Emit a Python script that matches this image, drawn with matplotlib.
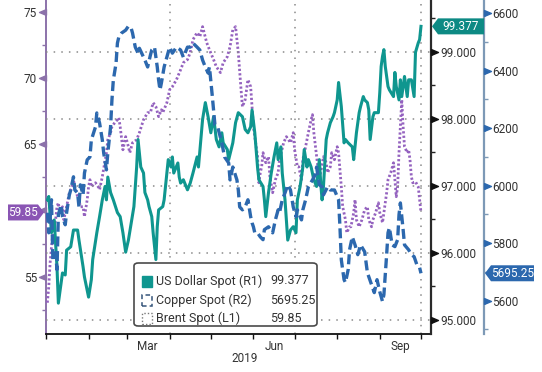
import numpy as np
import matplotlib
matplotlib.use("Agg")
import matplotlib.pyplot as plt
import matplotlib.dates as mdates
from matplotlib.ticker import MultipleLocator, FixedLocator, NullFormatter, FormatStrFormatter
from matplotlib.patches import Polygon, FancyBboxPatch, Rectangle
from matplotlib.transforms import blended_transform_factory
from matplotlib import font_manager as fm


def has_font(name):
    try:
        fm.findfont(fm.FontProperties(family=name), fallback_to_default=False)
        return True
    except Exception:
        return False


if has_font('Liberation Sans Narrow'):
    FAM = ['Liberation Sans Narrow', 'DejaVu Sans']
    FS = 10
else:
    FAM = ['Roboto', 'DejaVu Sans']
    FS = 8.5
plt.rcParams['font.family'] = FAM

# ---------------- data (day offsets from 2019-01-01) ----------------
BASE = np.datetime64('2019-01-01')

usd_days = [1, 2, 4, 6, 8, 9, 12, 14, 15, 18, 20, 23, 24, 27, 28, 31, 33, 34, 37, 39, 41, 43, 44, 45, 47, 49,
            52, 54, 56, 58, 60, 64, 66, 67, 69, 71, 72, 74, 75, 77, 78, 80, 81, 82, 85, 86, 88, 89, 91, 92,
            93, 96, 97, 98, 100, 103, 105, 107, 110, 111, 114, 116, 118, 120, 122, 124, 126, 128, 129, 132,
            133, 136, 138, 140, 143, 145, 147, 149, 150, 152, 154, 155, 158, 159, 160, 162, 164, 166, 168,
            169, 171, 172, 174, 176, 178, 180, 182, 183, 185, 187, 188, 190, 191, 193, 195, 197, 199, 200,
            201, 202, 204, 205, 207, 209, 210, 212, 213, 215, 217, 218, 220, 223, 224, 226, 228, 229, 231,
            232, 234, 235, 236, 238, 239, 242, 243, 244, 245, 246, 247, 249, 250, 253, 254, 255, 257, 258,
            259, 261, 263, 264, 266, 268, 269, 271, 272, 273]
usd_vals = [96.79, 96.84, 96.30, 96.49, 95.79, 95.25, 95.70, 95.67, 96.04, 96.09, 96.34, 96.34, 96.19,
            95.79, 95.64, 95.34, 95.60, 95.90, 96.30, 96.54, 96.79, 96.99, 96.79, 97.13, 96.90, 96.79,
            96.60, 96.54, 96.30, 96.01, 96.19, 96.69, 97.28, 97.69, 97.28, 97.19, 96.90, 96.79, 96.69,
            96.54, 96.30, 95.90, 96.39, 96.64, 96.69, 96.79, 97.19, 97.39, 97.28, 97.43, 97.19, 97.34,
            97.13, 97.04, 97.09, 96.94, 97.04, 97.19, 97.43, 97.28, 97.99, 98.24, 98.03, 97.79, 98.03,
            97.69, 97.58, 97.79, 97.64, 97.54, 97.39, 97.64, 97.94, 98.09, 98.03, 97.84, 97.79, 97.88,
            98.13, 97.79, 97.28, 97.09, 96.99, 96.79, 96.54, 96.90, 97.19, 97.43, 97.64, 97.39, 97.58,
            97.19, 96.79, 96.19, 96.34, 96.39, 96.30, 96.79, 96.99, 97.28, 97.54, 97.28, 97.39, 97.28,
            97.09, 96.99, 97.39, 97.04, 96.79, 96.99, 97.69, 97.79, 97.94, 98.03, 98.09, 98.28, 98.54,
            98.18, 97.64, 97.69, 97.64, 97.58, 97.39, 97.79, 98.09, 98.18, 98.33, 98.28, 98.24, 98.13,
            97.69, 98.03, 98.09, 98.09, 98.39, 98.78, 98.93, 99.03, 98.78, 98.48, 98.43, 98.33, 98.69,
            98.48, 98.28, 98.58, 98.33, 98.63, 98.33, 98.58, 98.58, 98.33, 98.99, 99.13, 99.18, 99.377]

copper_days = [1, 2, 4, 5, 7, 8, 9, 11, 12, 14, 15, 17, 18, 20, 21, 23, 24, 25, 27, 28, 30, 32, 33, 36, 37,
               39, 41, 42, 44, 45, 47, 48, 49, 51, 52, 53, 55, 58, 60, 62, 63, 65, 67, 68, 71, 72, 74, 76,
               77, 79, 81, 82, 83, 84, 86, 88, 90, 92, 95, 98, 100, 103, 105, 107, 110, 112, 114, 116, 118,
               119, 121, 123, 125, 128, 130, 133, 134, 136, 139, 140, 141, 143, 145, 147, 149, 150, 151,
               152, 154, 156, 158, 159, 162, 165, 167, 169, 170, 172, 174, 176, 178, 180, 182, 183, 186,
               187, 189, 191, 194, 196, 197, 199, 201, 202, 205, 207, 210, 213, 214, 215, 217, 218, 220,
               221, 223, 225, 227, 229, 232, 234, 237, 239, 241, 243, 245, 246, 248, 249, 250, 252, 254,
               256, 257, 258, 260, 261, 264, 266, 268, 270, 272, 273]
copper_vals = [5906, 5836, 5951, 5742, 5767, 5708, 5899, 5933, 5892, 5864, 5906, 5968, 5985, 6031, 5985,
               5975, 5926, 6003, 5968, 6044, 6090, 6100, 6159, 6204, 6253, 6218, 6159, 6114, 6055, 6114,
               6204, 6298, 6367, 6426, 6496, 6517, 6531, 6541, 6555, 6548, 6531, 6482, 6461, 6478, 6447,
               6437, 6413, 6454, 6472, 6482, 6413, 6367, 6333, 6357, 6413, 6447, 6482, 6461, 6482, 6472,
               6447, 6482, 6482, 6496, 6482, 6472, 6437, 6413, 6392, 6413, 6315, 6211, 6204, 6149, 6100,
               6079, 6020, 6065, 6020, 5985, 5926, 5916, 5926, 5951, 5892, 5871, 5857, 5836, 5836, 5822,
               5812, 5847, 5857, 5836, 5881, 5916, 5906, 5951, 5975, 6003, 5985, 5926, 5892, 5916, 5881,
               5916, 5951, 5996, 6020, 6038, 6065, 6003, 5996, 5968, 5996, 5985, 5985, 5951, 5857, 5742,
               5673, 5663, 5708, 5777, 5822, 5794, 5760, 5794, 5770, 5697, 5656, 5628, 5673, 5631, 5597,
               5621, 5760, 5836, 5854, 5794, 5788, 5812, 5899, 5940, 5847, 5794, 5777, 5760, 5753, 5725,
               5715, 5695.25]

brent_days = [1, 2, 3, 4, 5, 7, 8, 9, 10, 12, 13, 14, 15, 17, 19, 20, 21, 23, 24, 25, 27, 28, 30, 31, 32,
              33, 36, 38, 39, 41, 44, 45, 47, 48, 50, 52, 53, 54, 56, 58, 60, 61, 63, 66, 68, 71, 74, 76,
              78, 80, 82, 84, 85, 88, 90, 92, 95, 98, 100, 103, 105, 107, 110, 112, 114, 117, 119, 122,
              124, 127, 129, 132, 134, 136, 138, 139, 140, 142, 143, 145, 147, 149, 150, 151, 154, 155,
              156, 157, 158, 160, 162, 163, 165, 167, 169, 170, 173, 175, 178, 180, 181, 183, 184, 186,
              187, 189, 191, 193, 194, 195, 197, 199, 202, 204, 205, 207, 208, 210, 212, 213, 215, 216,
              218, 219, 221, 222, 224, 225, 226, 228, 230, 232, 234, 235, 237, 238, 240, 242, 243, 245,
              246, 248, 249, 251, 253, 254, 255, 256, 257, 258, 259, 260, 261, 263, 264, 265, 266, 267,
              269, 271, 272, 273]
brent_vals = [53.04, 54.25, 56.06, 57.26, 58.32, 59.30, 60.28, 60.58, 59.83, 60.28, 59.30, 59.83, 60.28,
              61.34, 61.79, 62.32, 61.79, 61.04, 60.81, 60.28, 60.28, 59.53, 60.81, 61.79, 62.32, 61.79,
              62.09, 61.79, 61.57, 62.55, 64.36, 65.34, 65.87, 66.32, 66.62, 66.85, 67.00, 66.32, 64.58,
              65.57, 64.81, 64.36, 65.11, 65.34, 65.87, 66.85, 67.38, 67.38, 68.13, 67.83, 67.08, 67.60,
              67.38, 68.13, 69.11, 69.34, 69.87, 70.62, 71.15, 71.38, 71.91, 72.89, 73.42, 73.11, 73.87,
              72.66, 72.13, 71.38, 70.85, 70.40, 71.15, 71.60, 72.36, 73.64, 73.87, 72.89, 71.91, 69.11,
              67.83, 68.36, 69.87, 69.34, 67.83, 66.32, 64.06, 62.09, 62.85, 63.30, 64.36, 63.60, 64.06,
              62.55, 61.34, 62.32, 62.85, 63.83, 65.11, 65.57, 65.11, 65.87, 64.58, 63.30, 63.30, 62.32,
              63.83, 64.81, 65.87, 66.85, 67.23, 65.87, 64.06, 62.32, 64.06, 63.60, 62.85, 63.30, 64.36,
              63.83, 64.81, 64.36, 61.79, 60.28, 59.30, 58.32, 58.77, 58.77, 59.83, 60.81, 59.30, 58.77,
              59.30, 60.06, 60.28, 59.30, 58.77, 59.30, 59.83, 60.58, 59.83, 59.08, 59.83, 61.34, 62.32,
              62.85, 63.60, 62.32, 61.04, 61.79, 64.36, 66.32, 68.36, 66.32, 64.81, 64.36, 64.58, 63.83,
              62.55, 62.09, 62.17, 61.79, 60.81, 59.85]

legend_names = ['US Dollar Spot (R1)', 'Copper Spot (R2)', 'Brent Spot (L1)']
legend_values = ['99.377', '5695.25', '59.85']
month_labels = ['Mar', 'Jun', 'Sep']
year_label = '2019'

# ---------------- style ----------------
TEAL = '#0f968f'
BLUE = '#2c68ae'
PURPLE = '#9462bf'
PURPLE_AX = '#8c72aa'
CU_AX = '#7d99b6'
GRID = '#8a8a8a'
TXT = '#333333'

W, H = 542, 372
fig = plt.figure(figsize=(W / 100, H / 100), dpi=100)
fig.patch.set_facecolor('white')
L, R, B, T = 46, 431, 334, 0
ax = fig.add_axes([L / W, 1 - B / H, (R - L) / W, (B - T) / H])
ax_usd = ax.twinx()
ax_cu = ax.twinx()


def to_dates(days):
    return BASE + np.array(days, dtype='timedelta64[D]')


ax.set_xlim(BASE, BASE + np.timedelta64(6727, 'h'))
ax.set_ylim(50.68, 75.88)
ax_usd.set_ylim(94.79, 99.77)
ax_cu.set_ylim(5484, 6646)

# gridlines
ax_usd.set_yticks([95, 96, 97, 98, 99])
ax_usd.yaxis.grid(True, which='major', color=GRID, lw=1.1, linestyle=(0, (1, 4)))
for d in ['2019-04-01', '2019-07-01', '2019-10-01']:
    ax.axvline(np.datetime64(d), color=GRID, lw=1.1, linestyle=(0, (1, 4)), zorder=0)

# series
ax.plot(to_dates(brent_days), brent_vals, color=PURPLE, lw=2.0,
        linestyle=(0, (0.8, 0.8)), dash_capstyle='butt', zorder=3)
ax_cu.plot(to_dates(copper_days), copper_vals, color=BLUE, lw=2.4,
           linestyle=(0, (3.0, 1.4)), dash_capstyle='butt', zorder=3)
ax_usd.plot(to_dates(usd_days), usd_vals, color=TEAL, lw=2.2, zorder=4)

# spines
for a in (ax, ax_usd, ax_cu):
    a.spines['top'].set_visible(False)
ax.spines['right'].set_visible(False)
ax.spines['left'].set_color(PURPLE_AX)
ax.spines['left'].set_linewidth(1.4)
ax.spines['bottom'].set_color('#111111')
ax.spines['bottom'].set_linewidth(1.3)
for a in (ax_usd, ax_cu):
    a.spines['left'].set_visible(False)
    a.spines['bottom'].set_visible(False)
ax_usd.spines['right'].set_color('#2a2a2a')
ax_usd.spines['right'].set_linewidth(1.6)
CU_POS = (484 - L) / (R - L)
ax_cu.spines['right'].set_position(('axes', CU_POS))
ax_cu.spines['right'].set_color(CU_AX)
ax_cu.spines['right'].set_linewidth(1.6)

# y ticks
left_major = [55, 60, 65, 70, 75]
ax.yaxis.set_major_locator(FixedLocator(left_major))
ax.set_yticklabels(['55', '', '65', '70', '75'])
ax.yaxis.set_minor_locator(MultipleLocator(2.5))
ax.tick_params(axis='y', which='major', length=0, pad=6.5, labelsize=FS, labelcolor=TXT)
ax.tick_params(axis='y', which='minor', length=3, width=1, color=PURPLE_AX, direction='out')

usd_major = [95, 96, 97, 98, 99]
ax_usd.yaxis.set_major_formatter(FormatStrFormatter('%.3f'))
ax_usd.yaxis.set_minor_locator(MultipleLocator(0.5))
ax_usd.tick_params(axis='y', which='major', length=0, pad=6.5, labelsize=FS, labelcolor=TXT)
ax_usd.tick_params(axis='y', which='minor', length=3, width=1, color='#222222', direction='out')

cu_major = [5600, 5800, 6000, 6200, 6400, 6600]
ax_cu.yaxis.set_major_locator(FixedLocator(cu_major))
ax_cu.yaxis.set_minor_locator(MultipleLocator(100))
ax_cu.tick_params(axis='y', which='major', length=0, pad=5.8, labelsize=FS, labelcolor=TXT)
ax_cu.tick_params(axis='y', which='minor', length=3, width=1, color=CU_AX, direction='out')

# triangle tick markers
tri_r = [(0, -0.42), (0, 0.42), (1, 0), (0, -0.42)]
tri_l = [(0, -0.42), (0, 0.42), (-1, 0), (0, -0.42)]
ax.plot(np.zeros(len(left_major)), left_major, ls='none', marker=tri_l, ms=10, color=PURPLE_AX,
        transform=blended_transform_factory(ax.transAxes, ax.transData), clip_on=False, zorder=6)
ax_usd.plot(np.ones(len(usd_major)), usd_major, ls='none', marker=tri_r, ms=10, color='#111111',
            transform=blended_transform_factory(ax_usd.transAxes, ax_usd.transData), clip_on=False, zorder=6)
ax_cu.plot(np.full(len(cu_major), CU_POS), cu_major, ls='none', marker=tri_r, ms=10, color=BLUE,
           transform=blended_transform_factory(ax_cu.transAxes, ax_cu.transData), clip_on=False, zorder=6)

# x ticks
ax.xaxis.set_major_locator(mdates.MonthLocator())
ax.xaxis.set_major_formatter(NullFormatter())
mids = [mdates.date2num(np.datetime64(d)) for d in ['2019-03-16', '2019-06-16', '2019-09-16']]
ax.xaxis.set_minor_locator(FixedLocator(mids))
ax.xaxis.set_minor_formatter(matplotlib.ticker.FixedFormatter(month_labels))
ax.tick_params(axis='x', which='major', length=3.5, width=1, color='#111111', direction='out')
ax.tick_params(axis='x', which='minor', length=0, pad=4, labelsize=FS, labelcolor=TXT)
fig.text(245 / W, 1 - 358 / H, year_label, ha='center', va='center', fontsize=FS, color=TXT)

# value tags
inv = fig.transFigure.inverted()


def tag(axis, value, xl, xr, side, color, text):
    yd = axis.transData.transform((0, value))[1]
    h = 8
    if side == 'left':
        verts = [(xl, yd), (xl + 6, yd + h), (xr, yd + h), (xr, yd - h), (xl + 6, yd - h)]
        cx = (xl + xr) / 2 + 3
    else:
        verts = [(xr, yd), (xr - 6, yd + h), (xl, yd + h), (xl, yd - h), (xr - 6, yd - h)]
        cx = (xl + xr) / 2 - 3
    fig.add_artist(Polygon(inv.transform(verts), closed=True, transform=fig.transFigure,
                           facecolor=color, edgecolor='none', zorder=5))
    fx, fy = inv.transform((cx, yd))
    fig.text(fx, fy, text, color='white', ha='center', va='center', fontsize=FS, zorder=6)


tag(ax_usd, usd_vals[-1], 432, 484, 'left', '#0d8a84', legend_values[0])
tag(ax_cu, copper_vals[-1], 485, 534, 'left', BLUE, legend_values[1])
tag(ax, brent_vals[-1], 8, 44, 'right', '#8a55b4', legend_values[2])

# legend
def px(x, y):
    return x / W, 1 - y / H


lx0, ly0 = px(134, 326)
fig.add_artist(FancyBboxPatch((lx0, ly0), 183 / W, 63 / H,
                              boxstyle='round,pad=0,rounding_size=0.008',
                              transform=fig.transFigure, facecolor='white',
                              edgecolor='#4a4a4a', lw=1.2, zorder=7))
rows = [281, 300, 318]
hx, hy = px(142, 0)
hw, hh = 10 / W, 11 / H
styles = [dict(facecolor=TEAL, edgecolor=TEAL, lw=1),
          dict(facecolor='none', edgecolor='#35557a', lw=1.1, linestyle=(0, (3, 2))),
          dict(facecolor='none', edgecolor='#777777', lw=1.0, linestyle=(0, (1, 1.5)))]
for r, st, name, val in zip(rows, styles, legend_names, legend_values):
    _, yb = px(0, r + 5.5)
    fig.add_artist(Rectangle((hx, yb), hw, hh, transform=fig.transFigure, zorder=8, **st))
    tx, ty = px(156, r)
    fig.text(tx, ty, name, ha='left', va='center', fontsize=FS + 0.5, color=TXT, zorder=8)
    vx, _ = px(270, r)
    fig.text(vx, ty, val, ha='left', va='center', fontsize=FS + 0.5, color=TXT, zorder=8)

fig.savefig('out.png', dpi=100, facecolor='white')
